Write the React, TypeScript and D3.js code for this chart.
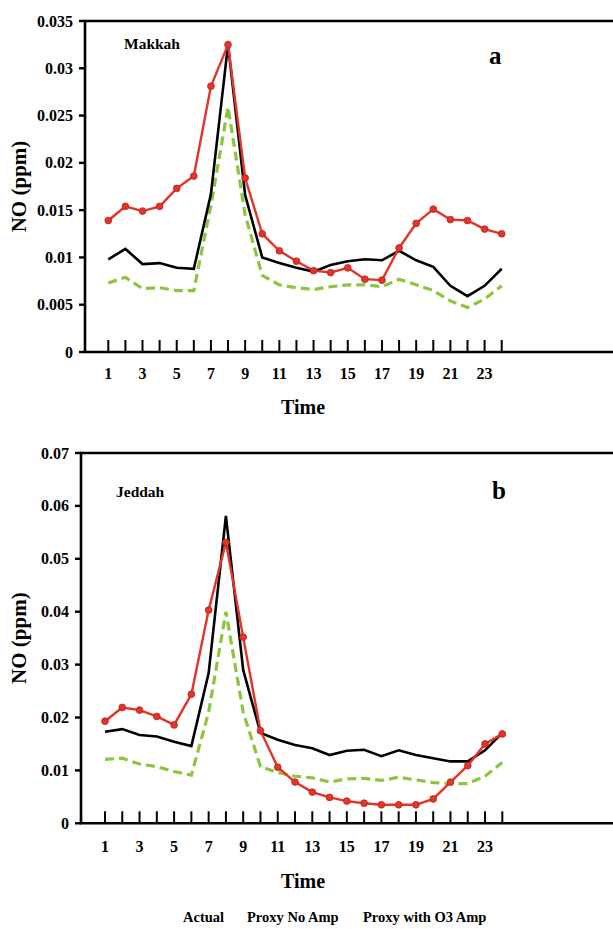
import React from "react";
import * as d3 from "d3";

// Hour of day (1..24)
const hours = d3.range(1, 25);
const hourLabels = [1, 3, 5, 7, 9, 11, 13, 15, 17, 19, 21, 23];

// Makkah NO (ppm)
const makkahActual = [
  0.0098, 0.0109, 0.0093, 0.0094, 0.0089, 0.0088, 0.0167, 0.0325, 0.0166, 0.01, 0.0094, 0.0089,
  0.0085, 0.0092, 0.0096, 0.0098, 0.0097, 0.0107, 0.0097, 0.009, 0.0070, 0.0059, 0.0070, 0.0088,
];
const makkahProxyNoAmp = [
  0.0139, 0.0154, 0.0149, 0.0154, 0.0173, 0.0186, 0.0281, 0.0325, 0.0184, 0.0125, 0.0107, 0.0096,
  0.0086, 0.0084, 0.0089, 0.0077, 0.0076, 0.011, 0.0136, 0.0151, 0.014, 0.0139, 0.013, 0.0125,
];
const makkahProxyO3Amp = [
  0.0073, 0.0079, 0.0067, 0.0068, 0.0065, 0.0065, 0.0155, 0.0259, 0.0145, 0.0081, 0.0071, 0.0068,
  0.0066, 0.0069, 0.0071, 0.0071, 0.0069, 0.0077, 0.0071, 0.0065, 0.0054, 0.0047, 0.0056, 0.007,
];
const makkahYTicks = [0, 0.005, 0.01, 0.015, 0.02, 0.025, 0.03, 0.035];
const makkahYLabels = ["0", "0.005", "0.01", "0.015", "0.02", "0.025", "0.03", "0.035"];

// Jeddah NO (ppm)
const jeddahActual = [
  0.0173, 0.0178, 0.0167, 0.0164, 0.0154, 0.0146, 0.0284, 0.0581, 0.029, 0.0171, 0.0158, 0.0148,
  0.0142, 0.0129, 0.0137, 0.0139, 0.0127, 0.0138, 0.0129, 0.0123, 0.0117, 0.0117, 0.0138, 0.0171,
];
const jeddahProxyNoAmp = [
  0.0193, 0.0219, 0.0214, 0.0202, 0.0186, 0.0244, 0.0403, 0.0531, 0.0352, 0.0175, 0.0106, 0.0078,
  0.0059, 0.0049, 0.0042, 0.0038, 0.0035, 0.0035, 0.0035, 0.0046, 0.0078, 0.0109, 0.015, 0.0169,
];
const jeddahProxyO3Amp = [
  0.0121, 0.0123, 0.0112, 0.0107, 0.0098, 0.0091, 0.021, 0.04, 0.021, 0.0107, 0.0096, 0.0089,
  0.0086, 0.0078, 0.0084, 0.0085, 0.0081, 0.0087, 0.0082, 0.0077, 0.0075, 0.0075, 0.0089, 0.0115,
];
const jeddahYTicks = [0, 0.01, 0.02, 0.03, 0.04, 0.05, 0.06, 0.07];
const jeddahYLabels = ["0", "0.01", "0.02", "0.03", "0.04", "0.05", "0.06", "0.07"];

const legendLabels = ["Actual", "Proxy No Amp", "Proxy with O3 Amp"];

const FONT = "'Liberation Serif', 'Times New Roman', serif";
const RED = "#e53329";
const GREEN = "#8cc63e";

type PanelProps = {
  top: number;
  bottom: number;
  left: number;
  xFirst: number;
  xLast: number;
  yMax: number;
  yTicks: number[];
  yLabels: string[];
  actual: number[];
  proxyNoAmp: number[];
  proxyO3Amp: number[];
  city: string;
  letter: string;
  cityPos: [number, number];
  letterPos: [number, number];
  xLabelY: number;
  timeY: number;
};

function Panel(p: PanelProps) {
  const x = d3.scaleLinear().domain([1, 24]).range([p.xFirst, p.xLast]);
  const y = d3.scaleLinear().domain([0, p.yMax]).range([p.bottom, p.top]);
  const line = d3
    .line<number>()
    .x((_, i) => x(hours[i]))
    .y((d) => y(d));
  const right = 620;
  const midY = (p.top + p.bottom) / 2;
  return (
    <g fontFamily={FONT} fontWeight="bold" fill="#000">
      {/* frame: left axis, top border, bottom axis */}
      <path
        d={`M${right},${p.top}H${p.left}V${p.bottom}H${right}`}
        fill="none"
        stroke="#000"
        strokeWidth={2.6}
      />
      {/* y ticks */}
      {p.yTicks.map((t, i) => (
        <g key={t}>
          <line x1={p.left - 6} x2={p.left} y1={y(t)} y2={y(t)} stroke="#000" strokeWidth={2.4} />
          <text x={p.left - 12} y={y(t) + 5.5} textAnchor="end" fontSize={16}>
            {p.yLabels[i]}
          </text>
        </g>
      ))}
      {/* x ticks (inside) */}
      {hours.map((h) => (
        <line key={h} x1={x(h)} x2={x(h)} y1={p.bottom} y2={p.bottom - 12} stroke="#000" strokeWidth={2} />
      ))}
      {hourLabels.map((h) => (
        <text key={h} x={x(h)} y={p.xLabelY} textAnchor="middle" fontSize={16}>
          {h}
        </text>
      ))}
      <text x={303} y={p.timeY} textAnchor="middle" fontSize={20}>
        Time
      </text>
      <text
        transform={`translate(26,${midY}) rotate(-90)`}
        textAnchor="middle"
        fontSize={21}
      >
        NO (ppm)
      </text>
      <text x={p.cityPos[0]} y={p.cityPos[1]} fontSize={15.5}>
        {p.city}
      </text>
      <text x={p.letterPos[0]} y={p.letterPos[1]} fontSize={25}>
        {p.letter}
      </text>
      {/* series */}
      <path d={line(p.proxyO3Amp) ?? ""} fill="none" stroke={GREEN} strokeWidth={3.2} strokeDasharray="9,5" />
      <path d={line(p.actual) ?? ""} fill="none" stroke="#000" strokeWidth={2.6} />
      <path d={line(p.proxyNoAmp) ?? ""} fill="none" stroke={RED} strokeWidth={2.4} />
      {p.proxyNoAmp.map((d, i) => (
        <circle key={i} cx={x(hours[i])} cy={y(d)} r={3.4} fill={RED} stroke="#b02a20" strokeWidth={0.8} />
      ))}
    </g>
  );
}

export default function App() {
  const legendX = [183, 247, 363];
  return (
    <svg
      width={613}
      height={929}
      style={{ position: "absolute", left: 0, top: 0, background: "#fff" }}
    >
      <rect width={613} height={929} fill="#fff" />
      <Panel
        top={21}
        bottom={352}
        left={85}
        xFirst={108.3}
        xLast={501.7}
        yMax={0.035}
        yTicks={makkahYTicks}
        yLabels={makkahYLabels}
        actual={makkahActual}
        proxyNoAmp={makkahProxyNoAmp}
        proxyO3Amp={makkahProxyO3Amp}
        city="Makkah"
        letter="a"
        cityPos={[124, 49]}
        letterPos={[489, 64]}
        xLabelY={379}
        timeY={414}
      />
      <Panel
        top={453}
        bottom={823.3}
        left={81}
        xFirst={105}
        xLast={502.3}
        yMax={0.07}
        yTicks={jeddahYTicks}
        yLabels={jeddahYLabels}
        actual={jeddahActual}
        proxyNoAmp={jeddahProxyNoAmp}
        proxyO3Amp={jeddahProxyO3Amp}
        city="Jeddah"
        letter="b"
        cityPos={[116, 497]}
        letterPos={[492, 499]}
        xLabelY={852}
        timeY={888}
      />
      {legendLabels.map((t, i) => (
        <text key={t} x={legendX[i]} y={922} fontFamily={FONT} fontWeight="bold" fontSize={14.5}>
          {t}
        </text>
      ))}
    </svg>
  );
}
